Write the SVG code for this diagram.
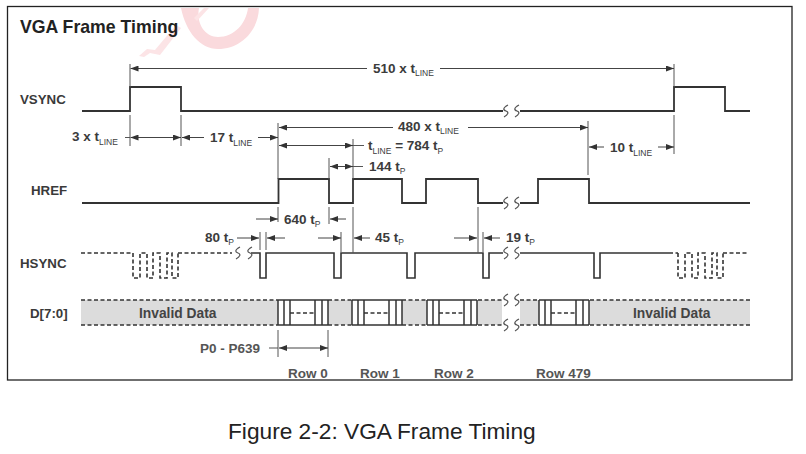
<svg xmlns="http://www.w3.org/2000/svg" width="806" height="454" viewBox="0 0 806 454">
<style>
text{font-family:"Liberation Sans",Arial,sans-serif;fill:#333}
.b{font-weight:bold}
.sig{font-size:13.300px;font-weight:bold;fill:#3a3a3a}
.dim{font-size:13.500px;font-weight:bold;fill:#3c3c3c}
.sub{font-size:8.500px;font-weight:normal}
.row{font-size:13.500px;font-weight:bold;fill:#555}
.w{fill:none;stroke:#333;stroke-width:1.800}
.dash{fill:none;stroke:#333;stroke-width:1.600;stroke-dasharray:4 2.500}
.t{fill:none;stroke:#555;stroke-width:1}
.a{fill:none;stroke:#444;stroke-width:1;marker-end:url(#h)}
.aa{fill:none;stroke:#444;stroke-width:1;marker-start:url(#hs);marker-end:url(#h)}
.grey{fill:#dcdcdc;stroke:none}
.cell{fill:#fff;stroke:none}
.v{fill:none;stroke:#333;stroke-width:1.500}
.s{fill:none;stroke:#555;stroke-width:1.200}
</style>
<defs>
<marker id="h" viewBox="0 0 8 6" refX="8" refY="3" markerWidth="8" markerHeight="6" markerUnits="userSpaceOnUse" orient="auto"><path d="M0 0L8 3L0 6Z" fill="#333"/></marker>
<marker id="hs" viewBox="0 0 8 6" refX="0" refY="3" markerWidth="8" markerHeight="6" markerUnits="userSpaceOnUse" orient="auto"><path d="M8 0L0 3L8 6Z" fill="#333"/></marker>
<path id="brk" d="M3-6C-2.500-3-2-1 1 0S3.500 3.500-1 6" class="s"/>
<g id="cells">
<rect class="cell" x="0" y="0" width="50" height="25"/>
<path class="v" d="M0 0H50M0 25H50M0 0V25M6 0V25M12 0V25M37 0V25M44 0V25M50 0V25"/>
<path class="v" d="M12 13H37" stroke-dasharray="4 2.500"/>
</g>
<path id="pulse" class="dash" d="M0 0V25H7V0H14V25H20V0H27V25H34V0H39V25H45V0"/>
</defs>
<rect width="806" height="454" fill="#fff"/>
<g id="watermark" fill="#fadadd" stroke="none">
<path d="M181 8C186 32 200 49 218 49C240 49 258 32 259 8L248 8C246 24 234 37 218 37C205 37 196 24 199 8Z"/>
<path d="M139 56L147 49L155 50L176 25L181 28L160 55L150 53L144 57Z" fill="#fce4e6"/>
<path d="M194 18L204 8L209 8L197 21Z" fill="#fce4e6"/>
</g>
<rect id="frame" x="7.500" y="6.500" width="784.500" height="373.500" fill="none" stroke="#222" stroke-width="1.300"/>
<text id="title" class="b" x="20" y="33" font-size="17.700" style="fill:#222">VGA Frame Timing</text>
<g id="vsync">
<text class="sig" x="20" y="104">VSYNC</text>
<path class="w" d="M82 111H130V87H181V111H503M520 111H674V87H725V111H750"/>
<use href="#brk" x="505" y="111"/><use href="#brk" x="516" y="111"/>
</g>
<g id="href">
<text class="sig" x="31" y="195">HREF</text>
<path class="w" d="M82 203H278.500V179H329V203H353V179H402V203H426V179H478V203H503M520 203H538V179H589V203H750"/>
<use href="#brk" x="505" y="203"/><use href="#brk" x="516" y="203"/>
</g>
<g id="hsync">
<text class="sig" x="20" y="268">HSYNC</text>
<path class="dash" d="M81 253H133M178 253H232M669 253H678M723 253H747"/>
<use href="#pulse" x="133" y="253"/><use href="#pulse" x="678" y="253"/>
<path class="w" style="stroke-width:1.600" d="M251 253H260V278H266V253H334V278H341V253H407V278H415V253H483V278H489V253H503M520 253H594V278H600V253H669"/>
<use href="#brk" x="237" y="253"/><use href="#brk" x="249" y="253"/>
<use href="#brk" x="505" y="253"/><use href="#brk" x="516" y="253"/>
</g>
<g id="data">
<text class="sig" x="30" y="318">D[7:0]</text>
<path class="grey" d="M81 300H502V325H81ZM520 300H750V325H520Z"/>
<path class="dash" d="M81 300H278M328 300H352M402 300H426M478 300H502M520 300H538M590 300H750M81 325H278M328 325H352M402 325H426M478 325H502M520 325H538M590 325H750"/>
<use href="#cells" x="278" y="300"/><use href="#cells" x="352" y="300"/><use href="#cells" x="427" y="300"/><use href="#cells" x="539" y="300"/>
<use href="#brk" x="505" y="300"/><use href="#brk" x="516" y="300"/><use href="#brk" x="505" y="325"/><use href="#brk" x="516" y="325"/>
<text class="b" x="139" y="318" font-size="13.800" style="fill:#444">Invalid Data</text>
<text class="b" x="633" y="318" font-size="13.800" style="fill:#444">Invalid Data</text>
</g>
<g id="rows">
<text class="row" x="288" y="378">Row 0</text>
<text class="row" x="360" y="378">Row 1</text>
<text class="row" x="434" y="378">Row 2</text>
<text class="row" x="536" y="378">Row 479</text>
</g>
<g id="connectors">
<path class="t" d="M130 64V87M674 64V87M130 115V146M181 115V146M278 123V179M588 121V175M674 115V154M353 139V179M329 158V179M278 207V222M329 207V224M353 207V253M260 232V250M266 232V250M341 232V252M478 207V253M483 232V252M278 330V357M328 330V357"/>
<path class="a" d="M367 68.500H130.500"/><path class="a" d="M440 68.500H674"/>
<path class="t" d="M125 137.500H130"/><path class="aa" d="M130.500 137.500H181"/>
<path class="a" d="M204 137.500H182"/><path class="a" d="M258 137.500H278"/>
<path class="a" d="M393 127.500H279"/><path class="a" d="M468 127.500H588"/>
<path class="aa" d="M279 145.500H353"/><path class="t" d="M353 145.500H364"/>
<path class="aa" d="M330 166.500H353"/><path class="t" d="M353 166.500H363"/>
<path class="a" d="M604 147H589"/><path class="a" d="M658 147H674"/>
<path class="a" d="M256 219H278"/><path class="a" d="M346 219H330"/>
<path class="a" d="M237 238H259"/><path class="a" d="M285 238H267"/>
<path class="a" d="M318 238H341"/><path class="a" d="M370 238H354"/>
<path class="a" d="M454 238H477"/><path class="a" d="M500 238H484"/>
<path class="t" d="M269 348H278"/><path class="aa" d="M279 348H328"/>
</g>
<g id="labels">
<text class="dim" x="373" y="73">510 x t<tspan class="sub" dy="3">LINE</tspan></text>
<text class="dim" x="72" y="141">3 x t<tspan class="sub" dy="4">LINE</tspan></text>
<text class="dim" x="210" y="142">17 t<tspan class="sub" dy="4">LINE</tspan></text>
<text class="dim" x="398" y="131">480 x t<tspan class="sub" dy="3">LINE</tspan></text>
<text class="dim" x="368" y="150">t<tspan class="sub" dy="4">LINE</tspan><tspan dy="-4"> = 784 t</tspan><tspan class="sub" dy="4">P</tspan></text>
<text class="dim" x="369" y="171">144 t<tspan class="sub" dy="3">P</tspan></text>
<text class="dim" x="610" y="152">10 t<tspan class="sub" dy="4">LINE</tspan></text>
<text class="dim" x="284" y="224">640 t<tspan class="sub" dy="3">P</tspan></text>
<text class="dim" x="205" y="242">80 t<tspan class="sub" dy="3">P</tspan></text>
<text class="dim" x="375" y="242">45 t<tspan class="sub" dy="3">P</tspan></text>
<text class="dim" x="506" y="242">19 t<tspan class="sub" dy="3">P</tspan></text>
<text class="dim" x="200" y="353" style="fill:#555">P0 - P639</text>
</g>
<text id="caption" x="228" y="439" font-size="22.700" style="fill:#222">Figure 2-2: VGA Frame Timing</text>
</svg>
